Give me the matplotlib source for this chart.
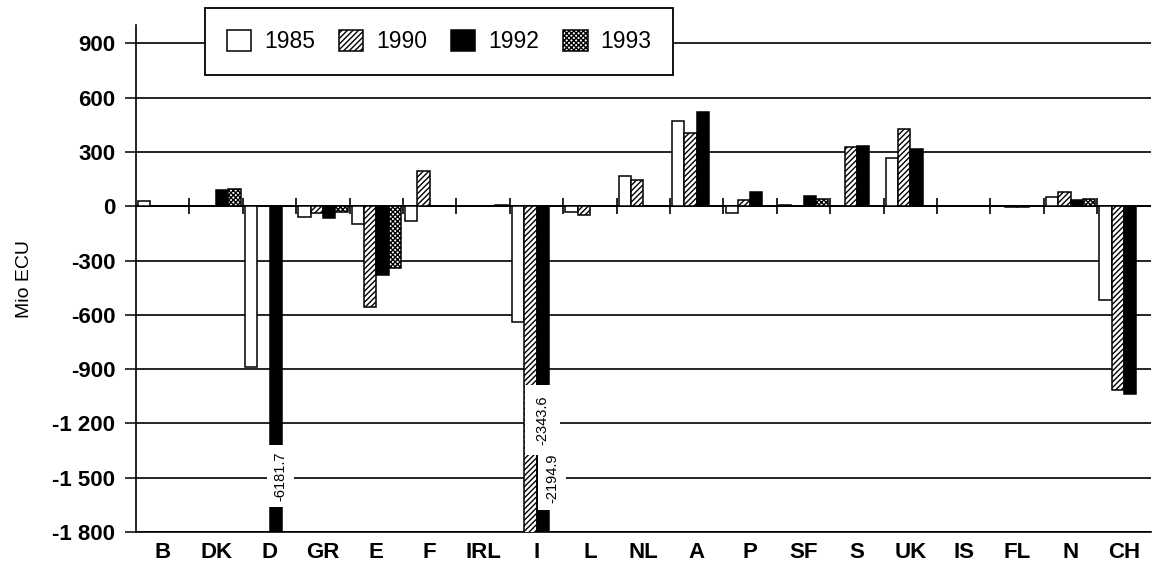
import numpy as np
import matplotlib

matplotlib.use("Agg")
import matplotlib.pyplot as plt

plt.rcParams["font.family"] = ["Liberation Sans", "DejaVu Sans"]
plt.rcParams["hatch.linewidth"] = 1.0

countries = ["B", "DK", "D", "GR", "E", "F", "IRL", "I", "L", "NL",
             "A", "P", "SF", "S", "UK", "IS", "FL", "N", "CH"]
years = ["1985", "1990", "1992", "1993"]

v1985 = [28, 0, -890, -60, -97, -83, 2, -642, -33, 166,
         470, -35, 5, 0, 266, 0, 0, 50, -516]
v1990 = [3, 0, np.nan, -35, -559, 194, 2, -2194.9, -48, 148,
         404, 37, 0, 330, 428, 0, -3, 78, -1016]
v1992 = [3, 92, -6181.7, -62, -378, 0, 0, -2343.6, 0, 0,
         524, 77, 59, 334, 317, 0, -3, 35, -1038]
v1993 = [0, 98, np.nan, -33, -341, 0, 10, np.nan, 0, 0,
         0, 0, 42, 0, 0, 0, 0, 41, 0]

# values that run off the bottom of the axis get a label inside the bar
# (country, value, x offset in categories, y of label, box padding)
off_scale = [("D", -6181.7, 0.20, -1490, 0.45),
             ("I", -2343.6, 0.11, -1180, 0.7),
             ("I", -2194.9, 0.29, -1505, 0.45)]

yticks = [900, 600, 300, 0, -300, -600, -900, -1200, -1500, -1800]

series = {"1985": v1985, "1990": v1990, "1992": v1992, "1993": v1993}
styles = {
    "1985": dict(facecolor="white", hatch=None),
    "1990": dict(facecolor="white", hatch="//////"),
    "1992": dict(facecolor="black", hatch=None),
    "1993": dict(facecolor="white", hatch="xxxxxxx"),
}

fig = plt.figure(figsize=(11.53, 5.85), dpi=100)
ax = fig.add_axes([0.118, 0.0906, 0.880, 0.866])

x = np.arange(len(countries))
w = 0.23
for i, yr in enumerate(years):
    st = styles[yr]
    ax.bar(x + (i - 1.5) * w, series[yr], width=w, facecolor=st["facecolor"],
           hatch=st["hatch"], edgecolor="black", linewidth=1.1, zorder=3,
           label=yr)

for c, val, dx, ypos, pad in off_scale:
    ax.text(countries.index(c) + dx, ypos, f"{val:.1f}", rotation=90,
            ha="center", va="center", fontsize=10.5, zorder=5,
            bbox=dict(boxstyle=f"square,pad={pad}", facecolor="white",
                      edgecolor="none"))

ax.set_xlim(-0.5, len(countries) - 0.5)
ax.set_ylim(-1800, 1000)
ax.set_yticks(yticks)
ax.set_yticklabels([f"{v:,}".replace(",", " ") for v in yticks],
                   fontsize=16, fontweight="bold")
ax.set_xticks(x)
ax.set_xticklabels(countries, fontsize=16, fontweight="bold")
ax.tick_params(axis="x", length=0, pad=7)
ax.tick_params(axis="y", length=8, width=1.1, pad=7, direction="out")
ax.yaxis.grid(True, color="black", linewidth=1.2, zorder=1)
ax.set_axisbelow(True)
ax.axhline(0, color="black", linewidth=1.4, zorder=2)
ax.plot(x[:-1] + 0.5, np.zeros(len(x) - 1), linestyle="none", marker="|",
        markersize=12, markeredgewidth=1.2, color="black", zorder=4)

for s in ["top", "right"]:
    ax.spines[s].set_visible(False)
ax.spines["left"].set_linewidth(1.2)
ax.spines["bottom"].set_linewidth(1.2)

ax.set_ylabel("Mio ECU", fontsize=14)
ax.yaxis.set_label_coords(-0.102, 0.5)

leg = ax.legend(loc="center", bbox_to_anchor=(0.381, 0.929),
                bbox_transform=fig.transFigure, ncol=4, fontsize=16.5,
                frameon=True, fancybox=False, framealpha=1,
                handlelength=1.05, handleheight=1.05, handletextpad=0.57,
                columnspacing=1.05, borderpad=0.95, borderaxespad=0)
leg.get_frame().set_edgecolor("black")
leg.get_frame().set_linewidth(1.3)

fig.savefig("out.png", dpi=100)
